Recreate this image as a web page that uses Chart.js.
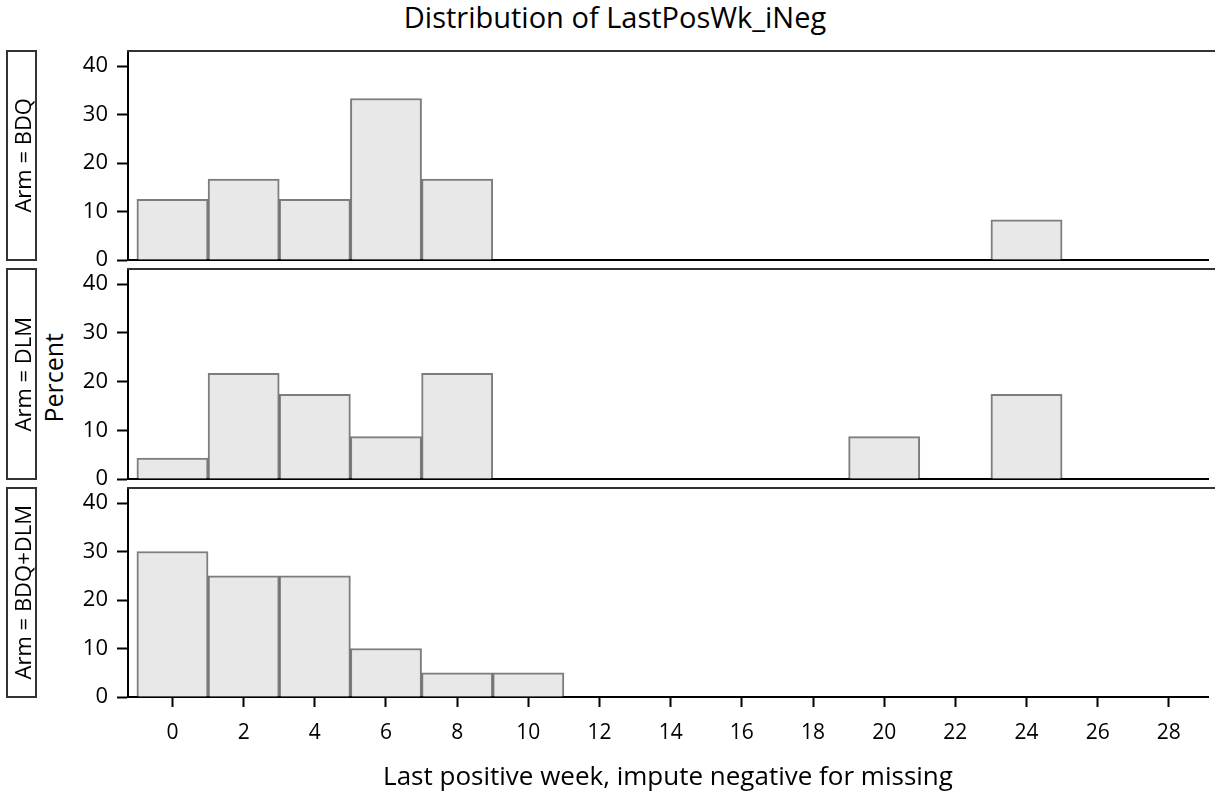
<!DOCTYPE html>
<html>
<head>
<meta charset="utf-8">
<script src="https://cdn.jsdelivr.net/npm/chart.js@4/dist/chart.umd.min.js"></script>
<style>
  body { margin: 0; background: #fff; }
  #wrap { position: relative; width: 1215px; height: 796px; font-family: "Open Sans", sans-serif; color: #000; }
  #wrap canvas { position: absolute; left: 0; top: 0; }
  .title { position: absolute; top: 0; left: 315px; width: 600px; text-align: center; font-size: 29px; line-height: 34px; }
  .rowhead { position: absolute; left: 6px; width: 27px; border: 2px solid #333; box-sizing: content-box;
             display: flex; align-items: center; justify-content: center; }
  .rowhead span, .ylab span { writing-mode: vertical-rl; transform: rotate(180deg); white-space: nowrap; }
  .rowhead span { font-size: 22px; }
  .ylab { position: absolute; left: 36px; width: 34px; top: 298px; height: 160px; display: flex;
          align-items: center; justify-content: center; font-size: 25px; }
</style>
</head>
<body>
<div id="wrap">
  <div class="title">Distribution of LastPosWk_iNeg</div>
  <div class="ylab"><span>Percent</span></div>
  <canvas id="c0" width="1215" height="796"></canvas>
  <canvas id="c1" width="1215" height="796"></canvas>
  <canvas id="c2" width="1215" height="796"></canvas>
</div>
<script>
// bin midpoints (width 2) and percent per arm
const armLabels = ['Arm = BDQ', 'Arm = DLM', 'Arm = BDQ+DLM'];
const binsBDQ = [0, 2, 4, 6, 8, 24];
const pctBDQ = [12.5, 16.7, 12.5, 33.3, 16.7, 8.3];
const binsDLM = [0, 2, 4, 6, 8, 20, 24];
const pctDLM = [4.3, 21.7, 17.4, 8.7, 21.7, 8.7, 17.4];
const binsBoth = [0, 2, 4, 6, 8, 10];
const pctBoth = [30, 25, 25, 10, 5, 5];
const xTicks = [0, 2, 4, 6, 8, 10, 12, 14, 16, 18, 20, 22, 24, 26, 28];
const yTicks = [0, 10, 20, 30, 40];
const xTitle = 'Last positive week, impute negative for missing';

const panels = [
  { bins: binsBDQ, pct: pctBDQ, top: 51, bottom: 260 },
  { bins: binsDLM, pct: pctDLM, top: 269, bottom: 479 },
  { bins: binsBoth, pct: pctBoth, top: 488, bottom: 697 },
];

const FONT = '"Open Sans", sans-serif';

const topBorder = {
  id: 'topBorder',
  afterDraw(chart) {
    const ctx = chart.ctx, a = chart.chartArea;
    ctx.save();
    ctx.strokeStyle = '#333';
    ctx.lineWidth = 2;
    ctx.beginPath();
    ctx.moveTo(a.left - 1, a.top);
    ctx.lineTo(1215, a.top);
    ctx.stroke();
    ctx.restore();
  }
};

panels.forEach((p, i) => {
  const last = i === panels.length - 1;

  const head = document.createElement('div');
  head.className = 'rowhead';
  head.style.top = (p.top - 1) + 'px';
  head.style.height = (p.bottom - p.top - 2) + 'px';
  head.innerHTML = '<span>' + armLabels[i] + '</span>';
  document.getElementById('wrap').appendChild(head);

  new Chart(document.getElementById('c' + i), {
    type: 'bar',
    data: {
      datasets: [{
        data: p.bins.map((b, k) => ({ x: b, y: p.pct[k] })),
        backgroundColor: '#e8e8e8',
        borderColor: 'rgba(70,70,70,0.7)',
        borderWidth: 2,
        barPercentage: 1,
        categoryPercentage: 1,
      }]
    },
    options: {
      responsive: false,
      animation: false,
      events: [],
      layout: { padding: { left: 40, right: 7, top: p.top, bottom: last ? 0 : 796 - p.bottom } },
      plugins: { legend: { display: false }, tooltip: { enabled: false } },
      scales: {
        x: {
          type: 'linear',
          min: -1.25,
          max: 29.1,
          offset: false,
          afterBuildTicks: s => { s.ticks = xTicks.map(v => ({ value: v })); },
          afterFit: s => { s.height = last ? 796 - p.bottom : 0; },
          grid: { display: last, offset: false, drawOnChartArea: false, drawTicks: true, tickLength: 10, tickWidth: 2, tickColor: '#000' },
          border: { display: true, color: '#000', width: 2 },
          ticks: { display: last, padding: 13, color: '#000', font: { family: FONT, size: 21 } },
          title: { display: last, text: xTitle, color: '#000', padding: { bottom: 3 }, font: { family: FONT, size: 26 } },
        },
        y: {
          min: 0,
          max: 43.1,
          afterBuildTicks: s => { s.ticks = yTicks.map(v => ({ value: v })); },
          afterFit: s => { s.width = 88; },
          grid: { drawOnChartArea: false, drawTicks: true, tickLength: 11, tickWidth: 2, tickColor: '#000' },
          border: { display: true, color: '#000', width: 2 },
          ticks: { padding: 9, color: '#000', font: { family: FONT, size: 22 } },
        }
      }
    },
    plugins: [topBorder]
  });
});
</script>
</body>
</html>
